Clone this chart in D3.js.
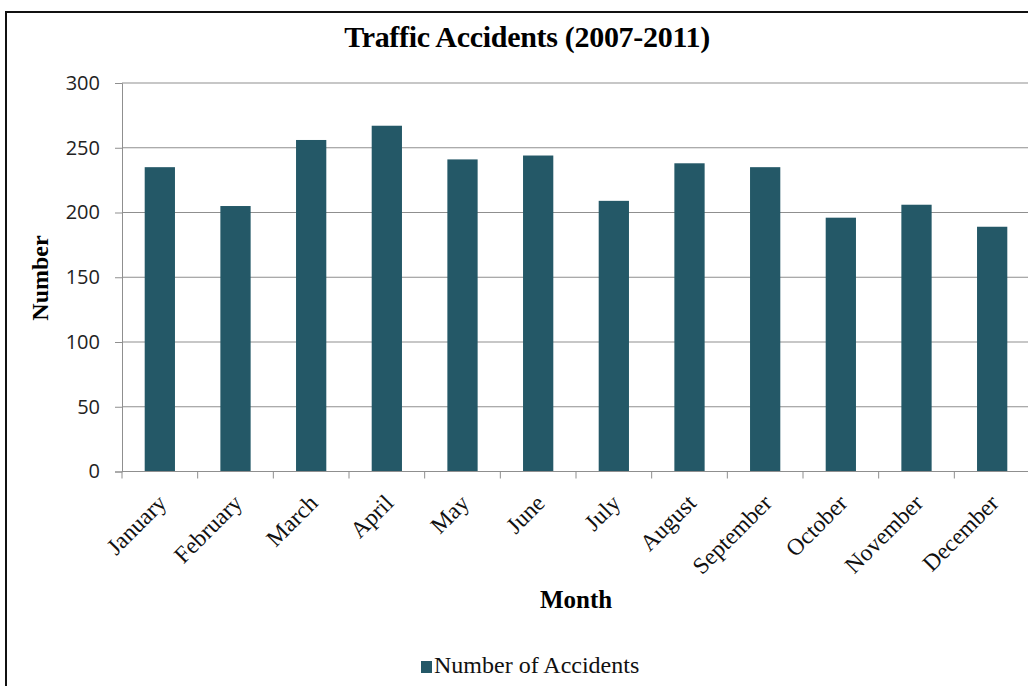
<!DOCTYPE html>
<html>
<head>
<meta charset="utf-8">
<script src="https://cdn.jsdelivr.net/npm/d3@7"></script>
<style>
  html, body { margin: 0; padding: 0; background: #fff; }
  svg { display: block; }
</style>
</head>
<body>
<svg id="chart" width="1028" height="686"></svg>
<script>
// Monthly traffic accidents, 2007-2011
const months = ["January", "February", "March", "April", "May", "June",
                "July", "August", "September", "October", "November", "December"];
const accidents = [235, 205, 256, 267, 241, 244, 209, 238, 235, 196, 206, 189];
const yTicks = [0, 50, 100, 150, 200, 250, 300];
const seriesName = "Number of Accidents";
const chartTitle = "Traffic Accidents (2007-2011)";

const svg = d3.select("#chart");
const W = 1028, H = 686;
const plot = { left: 122, right: 1030, top: 83, bottom: 471.5 };
const barColor = "#245867";
const gridColor = "#8f8f8f";
const serif = "'Liberation Serif', 'Times New Roman', serif";

// outer frame
svg.append("rect")
  .attr("x", 6).attr("y", 12)
  .attr("width", W + 20).attr("height", H + 20)
  .attr("fill", "none").attr("stroke", "#111").attr("stroke-width", 2);

const x = d3.scaleBand().domain(months).range([plot.left, plot.right]).paddingInner(0.6).paddingOuter(0.3);
const y = d3.scaleLinear().domain([0, 300]).range([plot.bottom, plot.top]);

// horizontal gridlines
svg.append("g").selectAll("line").data(yTicks.filter(d => d > 0)).join("line")
  .attr("x1", plot.left).attr("x2", W)
  .attr("y1", d => y(d)).attr("y2", d => y(d))
  .attr("stroke", gridColor).attr("stroke-width", 1);

// y axis
const yAxis = svg.append("g").attr("transform", `translate(${plot.left},0)`)
  .call(d3.axisLeft(y).tickValues(yTicks).tickSize(7).tickPadding(15));
yAxis.select(".domain").attr("stroke", gridColor);
yAxis.selectAll(".tick line").attr("stroke", gridColor);
yAxis.selectAll(".tick text")
  .attr("fill", "#222").attr("font-family", "'Open Sans', 'DejaVu Sans', sans-serif")
  .attr("font-size", 20);

// bars
svg.append("g").selectAll("rect").data(months).join("rect")
  .attr("x", d => x(d))
  .attr("y", (d, i) => y(accidents[i]))
  .attr("width", x.bandwidth())
  .attr("height", (d, i) => y(0) - y(accidents[i]))
  .attr("fill", barColor);

// x axis (category boundaries as ticks)
const step = x.step();
const xAxisG = svg.append("g");
xAxisG.append("line")
  .attr("x1", plot.left).attr("x2", W)
  .attr("y1", plot.bottom).attr("y2", plot.bottom)
  .attr("stroke", gridColor);
xAxisG.selectAll("line.tk").data(d3.range(months.length + 1)).join("line")
  .attr("class", "tk")
  .attr("x1", i => plot.left + i * step).attr("x2", i => plot.left + i * step)
  .attr("y1", plot.bottom).attr("y2", plot.bottom + 7)
  .attr("stroke", gridColor);

xAxisG.selectAll("text").data(months).join("text")
  .attr("transform", d => `translate(${x(d) + x.bandwidth() / 2 + 8},${plot.bottom + 33}) rotate(-45)`)
  .attr("text-anchor", "end")
  .attr("font-family", serif)
  .attr("font-size", 23.5)
  .attr("fill", "#111")
  .text(d => d);

// title
svg.append("text")
  .attr("x", 527).attr("y", 47)
  .attr("text-anchor", "middle")
  .attr("font-family", serif)
  .attr("font-weight", "bold").attr("font-size", 30)
  .attr("letter-spacing", -0.3)
  .attr("fill", "#000")
  .text(chartTitle);

// axis titles
svg.append("text")
  .attr("transform", `translate(48,278) rotate(-90)`)
  .attr("text-anchor", "middle")
  .attr("font-family", serif)
  .attr("font-weight", "bold").attr("font-size", 24)
  .attr("fill", "#000")
  .text("Number");

svg.append("text")
  .attr("x", 576).attr("y", 608)
  .attr("text-anchor", "middle")
  .attr("font-family", serif)
  .attr("font-weight", "bold").attr("font-size", 25)
  .attr("fill", "#000")
  .text("Month");

// legend
const legend = svg.append("g").attr("transform", "translate(421,661)");
legend.append("rect").attr("x", 0).attr("y", 0).attr("width", 11).attr("height", 12).attr("fill", barColor);
legend.append("text")
  .attr("x", 13).attr("y", 12)
  .attr("font-family", serif)
  .attr("font-size", 24)
  .attr("fill", "#111")
  .text(seriesName);
</script>
</body>
</html>
